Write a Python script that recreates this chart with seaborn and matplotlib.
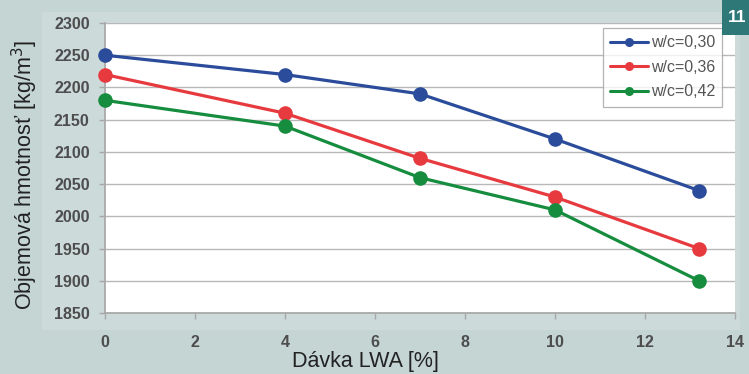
import matplotlib
matplotlib.use("Agg")
import matplotlib.pyplot as plt
from matplotlib.patches import Rectangle
import seaborn as sns
import pandas as pd

# LWA dosage [%] and bulk density [kg/m3] for three water/cement ratios
davka = [0, 4, 7, 10, 13.2]
wc_030 = [2250, 2220, 2190, 2120, 2040]
wc_036 = [2220, 2160, 2090, 2030, 1950]
wc_042 = [2180, 2140, 2060, 2010, 1900]
series_names = ["w/c=0,30", "w/c=0,36", "w/c=0,42"]
y_ticks = [1850, 1900, 1950, 2000, 2050, 2100, 2150, 2200, 2250, 2300]
x_ticks = [0, 2, 4, 6, 8, 10, 12, 14]

df = pd.DataFrame({
    "davka": davka * 3,
    "hmotnost": wc_030 + wc_036 + wc_042,
    "serie": [series_names[0]] * 5 + [series_names[1]] * 5 + [series_names[2]] * 5,
})

sns.set_theme(style="white")
plt.rcParams["font.family"] = ["Liberation Sans", "DejaVu Sans"]

W, H = 749, 374
bg = "#c4d5d4"
fig = plt.figure(figsize=(W / 100, H / 100), dpi=100, facecolor=bg)

# lighter panel behind the chart
fig.patches.append(Rectangle((42 / W, 1 - 330 / H), (740 - 42) / W, (330 - 12) / H,
                             transform=fig.transFigure, facecolor="#ccdad9",
                             edgecolor="none", zorder=-1))

ax = fig.add_axes([105 / W, 1 - 313 / H, 630 / W, 290 / H])
ax.set_facecolor("white")

palette = {series_names[0]: "#2b4c9b", series_names[1]: "#e63a3f", series_names[2]: "#168d3e"}
sns.lineplot(data=df, x="davka", y="hmotnost", hue="serie", palette=palette,
             marker="o", markersize=10.5, markeredgewidth=0, linewidth=2.3,
             ax=ax, legend=True, zorder=3, clip_on=False)

ax.set_xlim(0, 14)
ax.set_ylim(1850, 2300)
ax.set_xticks(x_ticks)
ax.set_yticks(y_ticks)
ax.yaxis.grid(True, color="#b8b8b8", linewidth=1.0)
ax.xaxis.grid(False)
for s in ["top", "right"]:
    ax.spines[s].set_visible(False)
ax.spines["left"].set_color("#a8a8a8")
ax.spines["bottom"].set_color("#a8a8a8")
ax.tick_params(axis="both", which="major", length=4, width=1, color="#a8a8a8",
               labelsize=11.5, labelcolor="#4d4d4d", direction="out",
               bottom=True, left=True)
ax.tick_params(axis="x", pad=12)
ax.tick_params(axis="y", pad=7)
for lab in ax.get_xticklabels() + ax.get_yticklabels():
    lab.set_fontweight("bold")

ax.set_xlabel("Dávka LWA [%]", fontsize=15.5, color="#222222")
ax.xaxis.set_label_coords((365 - 105) / 630, (313 - 351) / 290)
ax.set_ylabel("Objemová hmotnosť [kg/m$^3$]", fontsize=15.5, color="#222222")
ax.yaxis.set_label_coords((40 - 105) / 630, (313 - 175) / 290)

leg = ax.legend(loc="upper right", bbox_to_anchor=((722 - 105) / 630, (313 - 28) / 290),
                borderaxespad=0, fontsize=11.5, frameon=True, fancybox=False,
                edgecolor="#a0a0a0", handlelength=2.4, handletextpad=0.15,
                borderpad=0.45, labelspacing=0.6)
leg.get_frame().set_linewidth(0.9)
for t in leg.get_texts():
    t.set_color("#555555")
for h in leg.get_lines():
    h.set_markersize(6.5)
    h.set_linewidth(2.2)

# figure number badge
fig.patches.append(Rectangle((722 / W, 1 - 35 / H), 27 / W, 35 / H,
                             transform=fig.transFigure, facecolor="#2e7877",
                             edgecolor="none", zorder=5))
fig.text(737 / W, 1 - 17 / H, "11", color="white", fontsize=12.5, fontweight="bold",
         ha="center", va="center", zorder=6)

fig.savefig("out.png", dpi=100, facecolor=bg)
